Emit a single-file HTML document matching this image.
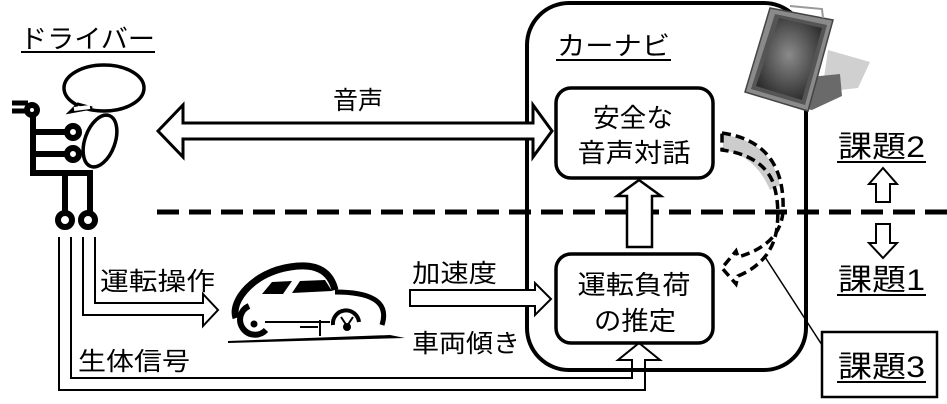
<!DOCTYPE html>
<html><head><meta charset="utf-8"><style>
html,body{margin:0;padding:0;background:#fff;}
svg{display:block;}
text{font-family:"Liberation Sans","Noto Sans CJK JP",sans-serif;fill:#000;}
</style></head><body>
<svg width="947" height="404" viewBox="0 0 947 404" xmlns="http://www.w3.org/2000/svg">
<defs>
<radialGradient id="scr" cx="50%" cy="45%" r="60%">
<stop offset="0" stop-color="#8a8a8a"/><stop offset="1" stop-color="#2a2a2a"/>
</radialGradient>
</defs>
<line x1="157" y1="212" x2="947" y2="212" stroke="#000" stroke-width="5" stroke-dasharray="22,10"/>
<rect x="527" y="3" width="279" height="367" rx="42" fill="none" stroke="#000" stroke-width="4"/>
<text x="557" y="55" font-size="26" textLength="113" lengthAdjust="spacingAndGlyphs">カーナビ</text>
<line x1="556" y1="60" x2="671" y2="60" stroke="#000" stroke-width="2"/>
<g>
<polygon points="828,50 870,62 858,88 822,92" fill="#d0d0d0"/>
<polygon points="800,78 840,74 842,96 812,110 800,108" fill="#6a6a6a"/>
<polygon points="770,8 833,20 808,111 745,92" fill="#8a8a8a" stroke="#444" stroke-width="1.5"/>
<polygon points="775,14 827,25 805,105 751,89" fill="#555"/>
<polygon points="779,18 822,28 802,100 756,86" fill="url(#scr)"/>
<polyline points="790,6 822,9 823,18" fill="none" stroke="#999" stroke-width="2"/>
</g>
<rect x="556" y="88" width="157" height="90" rx="15" fill="#fff" stroke="#000" stroke-width="3.5"/>
<text x="633" y="127" font-size="26" text-anchor="middle" textLength="80" lengthAdjust="spacingAndGlyphs">安全な</text>
<text x="634" y="162" font-size="26" text-anchor="middle" textLength="113" lengthAdjust="spacingAndGlyphs">音声対話</text>
<rect x="556" y="254" width="157" height="89" rx="15" fill="#fff" stroke="#000" stroke-width="3.5"/>
<text x="634" y="294" font-size="26" text-anchor="middle" textLength="113" lengthAdjust="spacingAndGlyphs">運転負荷</text>
<text x="635" y="330" font-size="26" text-anchor="middle" textLength="82" lengthAdjust="spacingAndGlyphs">の推定</text>
<polygon points="627,247 652,247 652,196 661,196 639,180 617,196 627,196" fill="#fff" stroke="#000" stroke-width="2.5"/>
<polygon points="158,131 183,105 183,123 533,123 533,105 552,131 533,157 533,139 183,139 183,157" fill="#fff" stroke="#000" stroke-width="3"/>
<text x="333" y="109" font-size="25" textLength="50" lengthAdjust="spacingAndGlyphs">音声</text>
<text x="20" y="48" font-size="26" textLength="135" lengthAdjust="spacingAndGlyphs">ドライバー</text>
<line x1="21" y1="52" x2="155" y2="52" stroke="#000" stroke-width="2"/>
<g fill="none" stroke="#000" stroke-width="6">
<ellipse cx="104" cy="88" rx="40" ry="23" stroke-width="3.5"/>
<ellipse cx="100" cy="141" rx="15" ry="27" transform="rotate(20 100 141)" stroke-width="3.5"/>
<line x1="12" y1="103" x2="28" y2="103" stroke-width="5"/>
<line x1="12" y1="111" x2="28" y2="111" stroke-width="5"/>
<circle cx="32" cy="110" r="5"/>
<polyline points="33,116 33,173 90,173 90,212"/>
<line x1="65" y1="173" x2="65" y2="212"/>
<line x1="33" y1="132" x2="66" y2="132"/>
<line x1="33" y1="154" x2="66" y2="154"/>
<circle cx="73" cy="132" r="6"/>
<circle cx="73" cy="154" r="6"/>
<circle cx="65" cy="220" r="7"/>
<circle cx="88" cy="220" r="7"/>
</g>
<polygon points="70,112 78,104 92,108" fill="#fff" stroke="#000" stroke-width="3"/>
<line x1="74" y1="109" x2="90" y2="107" stroke="#fff" stroke-width="4"/>
<polyline points="95,237 95,303 203,303 203,294 218,310 203,326 203,315 83,315 83,237" fill="#fff" stroke="#000" stroke-width="2"/>
<text x="100" y="290" font-size="25" textLength="115" lengthAdjust="spacingAndGlyphs">運転操作</text>
<polyline points="71,237 71,378 632,378 632,360 618,360 639,343 660,360 645,360 645,390 59,390 59,237" fill="none" stroke="#000" stroke-width="2"/>
<text x="78" y="370" font-size="25" textLength="112" lengthAdjust="spacingAndGlyphs">生体信号</text>
<g>
<path d="M236,318 C230,300 255,272 290,267 C315,263 330,270 335,290" fill="none" stroke="#000" stroke-width="7"/>
<path d="M335,292 C368,292 390,300 382,325" fill="none" stroke="#000" stroke-width="5"/>
<path d="M262,294 L272,282 L292,281 L283,294 Z M292,293 L300,281 L325,280 L332,291 Z" fill="#000"/>
<path d="M249,306 A15,15 0 1 0 266,330" fill="none" stroke="#000" stroke-width="6"/>
<circle cx="254" cy="324" r="3.5" fill="#000"/>
<path d="M333,325 A13,13 0 0 1 359,322" fill="none" stroke="#000" stroke-width="4"/>
<line x1="341" y1="317" x2="347" y2="326" stroke="#000" stroke-width="2"/>
<line x1="353" y1="317" x2="347" y2="326" stroke="#000" stroke-width="2"/>
<circle cx="347" cy="327" r="4" fill="#000"/>
<path d="M228,341 L390,335 L405,338 L228,343 Z" fill="#000"/>
<line x1="300" y1="327" x2="318" y2="327" stroke="#000" stroke-width="2"/>
<line x1="320" y1="320" x2="320" y2="336" stroke="#000" stroke-width="2"/>
<line x1="265" y1="322" x2="330" y2="322" stroke="#000" stroke-width="2"/>
</g>
<polygon points="410,290 535,290 535,283 551,299 535,315 535,306 410,306" fill="#fff" stroke="#000" stroke-width="2"/>
<text x="412" y="282" font-size="25" textLength="85" lengthAdjust="spacingAndGlyphs">加速度</text>
<text x="412" y="352" font-size="25" textLength="108" lengthAdjust="spacingAndGlyphs">車両傾き</text>
<path d="M723,135 Q770,140 780,185 L770,190 Q755,155 723,150 Z" fill="#ccc"/>
<path d="M722,133 Q786,142 783,212 Q780,245 738,257 L736,251 L722,268 L736,284 L738,276 Q772,262 777,228 Q780,200 772,180 Q760,155 722,150 Z" fill="none" stroke="#000" stroke-width="3.5" stroke-dasharray="9,5"/>
<line x1="765" y1="257" x2="822" y2="345" stroke="#000" stroke-width="1.5"/>
<text x="838" y="157" font-size="30" textLength="87" lengthAdjust="spacingAndGlyphs">課題2</text>
<line x1="837" y1="162" x2="926" y2="162" stroke="#000" stroke-width="2"/>
<polygon points="876,202 890,202 890,184 897,184 883,168 869,184 876,184" fill="#fff" stroke="#000" stroke-width="2"/>
<polygon points="876,224 890,224 890,243 897,243 883,258 869,243 876,243" fill="#fff" stroke="#000" stroke-width="2"/>
<text x="838" y="290" font-size="30" textLength="87" lengthAdjust="spacingAndGlyphs">課題1</text>
<line x1="837" y1="295" x2="926" y2="295" stroke="#000" stroke-width="2"/>
<rect x="822" y="332" width="115" height="65" fill="#fff" stroke="#000" stroke-width="2.5"/>
<text x="838" y="377" font-size="30" textLength="87" lengthAdjust="spacingAndGlyphs">課題3</text>
<line x1="837" y1="382" x2="926" y2="382" stroke="#000" stroke-width="2"/>
</svg>
</body></html>
